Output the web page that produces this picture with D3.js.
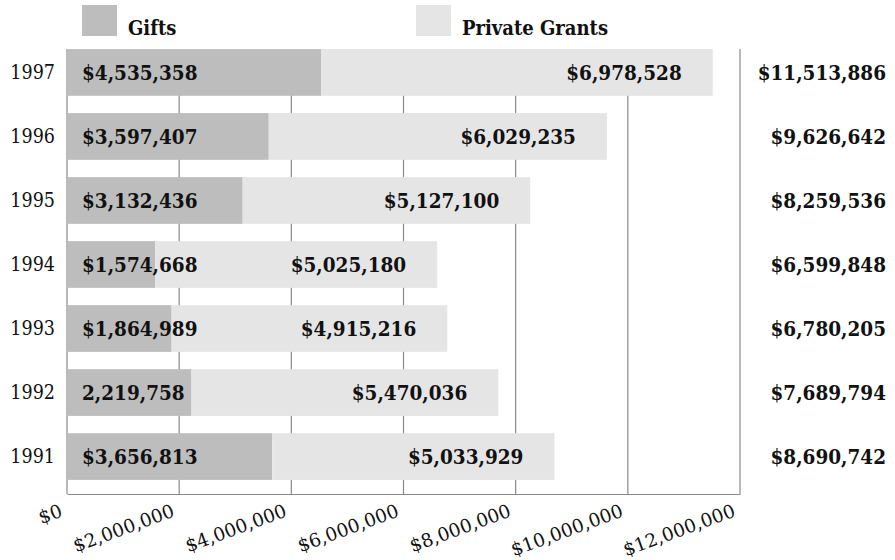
<!DOCTYPE html>
<html>
<head>
<meta charset="utf-8">
<script src="https://d3js.org/d3.v7.min.js"></script>
<style>
    body { margin: 0; background: #fff; }
    text { font-family: "DejaVu Serif Condensed", "DejaVu Serif", serif; fill: #111; }
    .x-axis text { font-family: "DejaVu Serif", serif; }
</style>
</head>
<body>
<div id="chart"></div>
<script>
var years = ["1997", "1996", "1995", "1994", "1993", "1992", "1991"];
var gifts = [4535358, 3597407, 3132436, 1574668, 1864989, 2219758, 3656813];
var grants = [6978528, 6029235, 5127100, 5025180, 4915216, 5470036, 5033929];
var totals = [11513886, 9626642, 8259536, 6599848, 6780205, 7689794, 8690742];
var giftLabels = ["$4,535,358", "$3,597,407", "$3,132,436", "$1,574,668", "$1,864,989", "2,219,758", "$3,656,813"];
var xTicks = [0, 2000000, 4000000, 6000000, 8000000, 10000000, 12000000];
var seriesNames = ["Gifts", "Private Grants"];

function init() {

    var w = 895;
    var h = 560;

    var colors = ["#bdbdbd", "#e5e5e5"];
    var money = d3.format("$,");

    var dataset = years.map(function(y, i) {
        return { year: y, gifts: gifts[i], grants: grants[i], total: totals[i], label: giftLabels[i] };
    });

    var stack = d3.stack()
                  .keys(["gifts", "grants"]);

    var series = stack(dataset);

    var svg = d3.select("#chart")
                .append("svg")
                .attr("width", w)
                .attr("height", h);

    var xScale = d3.scaleLinear()
                   .domain([0, 12000000])
                   .range([67, 740]);

    var yScale = d3.scaleBand()
                   .domain(years)
                   .range([35, 494])
                   .paddingInner(0.27)
                   .paddingOuter(0.22);

    // vertical grid lines behind the bars
    svg.append("g")
       .selectAll("line")
       .data(xTicks)
       .enter()
       .append("line")
       .attr("x1", function(d) { return xScale(d); })
       .attr("x2", function(d) { return xScale(d); })
       .attr("y1", 49)
       .attr("y2", 494)
       .attr("stroke", "#8a8a8a")
       .attr("stroke-width", 1.2);

    var groups = svg.selectAll("g.series")
                    .data(series)
                    .enter()
                    .append("g")
                    .attr("class", "series")
                    .style("fill", function(d, i) {
                        return colors[i];
                    });

    groups.selectAll("rect")
          .data(function(d) { return d; })
          .enter()
          .append("rect")
          .attr("x", function(d) { return xScale(d[0]); })
          .attr("y", function(d) { return yScale(d.data.year); })
          .attr("width", function(d) { return xScale(d[1]) - xScale(d[0]); })
          .attr("height", yScale.bandwidth());

    // bottom axis
    var xAxis = d3.axisBottom()
                  .scale(xScale)
                  .tickValues(xTicks)
                  .tickSize(0)
                  .tickFormat(money);

    var gx = svg.append("g")
                .attr("class", "x-axis")
                .attr("transform", "translate(0, 494)")
                .call(xAxis);

    gx.select(".domain")
      .attr("stroke", "#8a8a8a")
      .attr("stroke-width", 1.2);

    gx.selectAll("text")
      .attr("font-size", 18.5)
      .attr("fill", "#111")
      .attr("text-anchor", "end")
      .attr("dy", null)
      .attr("y", 0)
      .attr("transform", "translate(-4, 22) rotate(-20)");

    // year labels
    var yAxis = d3.axisLeft()
                  .scale(yScale)
                  .tickSize(0)
                  .tickPadding(12);

    var gy = svg.append("g")
                .attr("transform", "translate(67, 0)")
                .call(yAxis);

    gy.select(".domain").remove();
    gy.selectAll("text")
      .attr("font-size", 19.5)
      .attr("fill", "#111");

    var mid = function(d) { return yScale(d.year) + yScale.bandwidth() / 2; };

    svg.append("g")
       .selectAll("text")
       .data(dataset)
       .enter()
       .append("text")
       .attr("x", xScale(0) + 15)
       .attr("y", mid)
       .attr("dy", "0.36em")
       .attr("font-size", 20.5)
       .attr("font-weight", "bold")
       .text(function(d) { return d.label; });

    svg.append("g")
       .selectAll("text")
       .data(dataset)
       .enter()
       .append("text")
       .attr("x", function(d) { return xScale(d.total) - 31; })
       .attr("y", mid)
       .attr("dy", "0.36em")
       .attr("text-anchor", "end")
       .attr("font-size", 20.5)
       .attr("font-weight", "bold")
       .text(function(d) { return money(d.grants); });

    svg.append("g")
       .selectAll("text")
       .data(dataset)
       .enter()
       .append("text")
       .attr("x", 886)
       .attr("y", mid)
       .attr("dy", "0.36em")
       .attr("text-anchor", "end")
       .attr("font-size", 20.5)
       .attr("font-weight", "bold")
       .text(function(d) { return money(d.total); });

    // legend
    var legendX = [82, 416];
    var legend = svg.selectAll("g.legend")
                    .data(seriesNames)
                    .enter()
                    .append("g")
                    .attr("class", "legend")
                    .attr("transform", function(d, i) {
                        return "translate(" + legendX[i] + ", 5)";
                    });

    legend.append("rect")
          .attr("width", 35)
          .attr("height", 31)
          .style("fill", function(d, i) { return colors[i]; });

    legend.append("text")
          .attr("x", 46)
          .attr("y", 30)
          .attr("font-size", 20)
          .attr("font-weight", "bold")
          .text(function(d) { return d; });

}

window.onload = init;
</script>
</body>
</html>
